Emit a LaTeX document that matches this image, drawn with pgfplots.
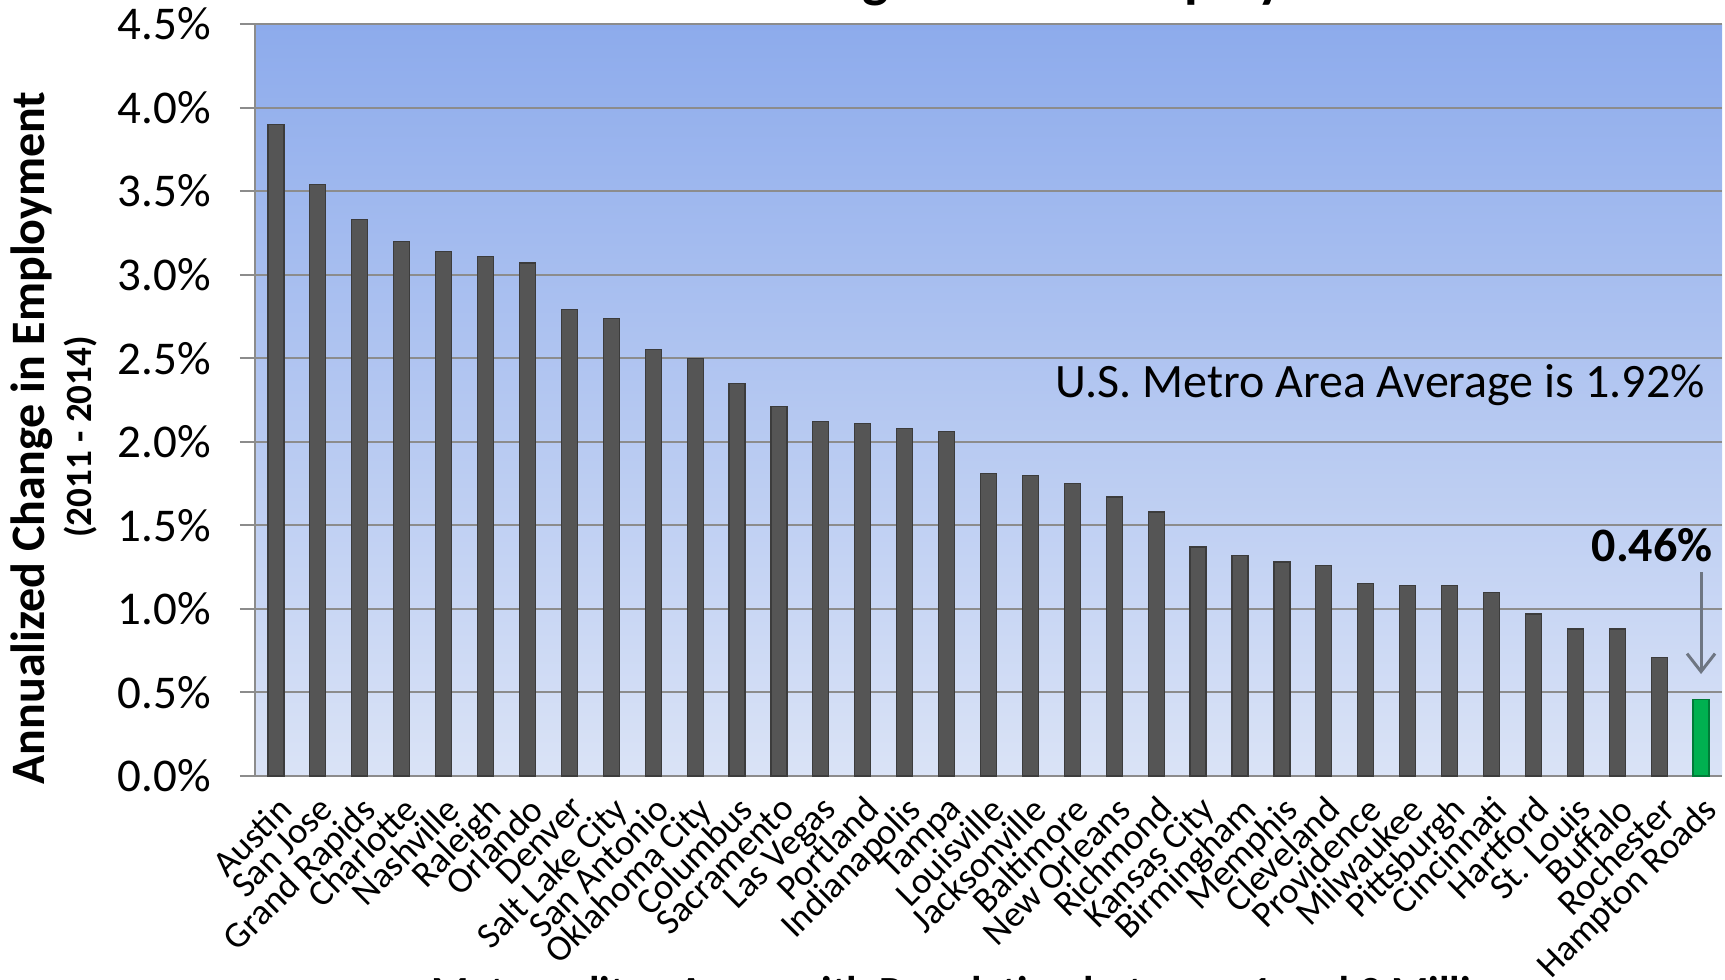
\documentclass[border=0pt]{standalone}
\usepackage{pgfplots}
\pgfplotsset{compat=1.18}
\usepackage{fontspec}
\setmainfont{Carlito}
\usetikzlibrary{arrows.meta}
\definecolor{bartop}{RGB}{141,171,236}
\definecolor{barbot}{RGB}{218,227,246}
\definecolor{bargray}{RGB}{85,85,85}
\definecolor{baredge}{RGB}{60,60,60}
\definecolor{hrgreen}{RGB}{0,176,80}
\definecolor{gridc}{RGB}{140,140,140}
\definecolor{arrowc}{RGB}{110,118,130}
\pgfplotstableread{
x y
0 3.90
1 3.54
2 3.33
3 3.20
4 3.14
5 3.11
6 3.07
7 2.79
8 2.74
9 2.55
10 2.50
11 2.35
12 2.21
13 2.12
14 2.11
15 2.08
16 2.06
17 1.81
18 1.80
19 1.75
20 1.67
21 1.58
22 1.37
23 1.32
24 1.28
25 1.26
26 1.15
27 1.14
28 1.14
29 1.10
30 0.97
31 0.88
32 0.88
33 0.71
}\metros
\pgfplotstableread{
x y
34 0.46
}\hampton
\begin{document}
\begin{tikzpicture}
\useasboundingbox (0,0) rectangle (862.5pt,490pt);
\begin{axis}[
  at={(127.5pt,102pt)}, anchor=south west,
  width=733.5pt, height=376pt, scale only axis,
  xmin=-0.5, xmax=34.5, ymin=0, ymax=4.5,
  axis background/.style={top color=bartop, bottom color=barbot},
  axis x line*=bottom, axis y line*=left,
  axis line style={gridc, line width=1pt, -},
  ymajorgrids, grid style={gridc, line width=1pt},
  ytick={0,0.5,1,1.5,2,2.5,3,3.5,4,4.5},
  yticklabels={0.0\%,0.5\%,1.0\%,1.5\%,2.0\%,2.5\%,3.0\%,3.5\%,4.0\%,4.5\%},
  tick align=outside,
  ytick style={gridc, line width=1pt},
  major tick length=7.5pt,
  yticklabel style={font=\fontsize{23.5pt}{28pt}\selectfont, black, xshift=-11pt},
  xtick={0,...,34},
  xtick style={draw=none},
  xticklabels={Austin,San Jose,Grand Rapids,Charlotte,Nashville,Raleigh,Orlando,Denver,Salt Lake City,San Antonio,Oklahoma City,Columbus,Sacramento,Las Vegas,Portland,Indianapolis,Tampa,Louisville,Jacksonville,Baltimore,New Orleans,Richmond,Kansas City,Birmingham,Memphis,Cleveland,Providence,Milwaukee,Pittsburgh,Cincinnati,Hartford,St. Louis,Buffalo,Rochester,Hampton Roads},
  xticklabel style={font=\fontsize{18.3pt}{22pt}\selectfont, rotate=45, anchor=north east, black, inner sep=1pt},
  clip=false,
]
\addplot[ybar, bar shift=0pt, bar width=8pt, fill=bargray, draw=baredge, line width=0.6pt] table[x=x,y=y] {\metros};
\addplot[ybar, bar shift=0pt, bar width=8pt, fill=hrgreen, draw=hrgreen!70!black, line width=0.6pt] table[x=x,y=y] {\hampton};
\draw[arrowc, line width=1.5pt, -{Straight Barb[length=9pt,width=14pt,line width=1.5pt]}] (axis cs:34,1.22) -- (axis cs:34,0.61);
\end{axis}
\node[anchor=base, font=\fontsize{28pt}{34pt}\selectfont\bfseries] at (470pt,491.5pt) {Annualized Change in Total Employment};
\node[anchor=base, font=\fontsize{21.5pt}{26pt}\selectfont\bfseries] at (487pt,-13.5pt) {Metropolitan Areas with Population between 1 and 3 Million};
\node[rotate=90, anchor=base, font=\fontsize{24pt}{29pt}\selectfont\bfseries] at (22pt,271pt) {Annualized Change in Employment};
\node[rotate=90, anchor=base, font=\fontsize{18.5pt}{22pt}\selectfont\bfseries] at (46pt,271.5pt) {(2011 - 2014)};
\node[anchor=base east, inner sep=0pt, font=\fontsize{24pt}{29pt}\selectfont] at (852.5pt,291pt) {U.S. Metro Area Average is 1.92\%};
\node[anchor=base east, inner sep=0pt, font=\fontsize{24pt}{29pt}\selectfont\bfseries] at (856.5pt,209pt) {0.46\%};
\end{tikzpicture}
\end{document}
